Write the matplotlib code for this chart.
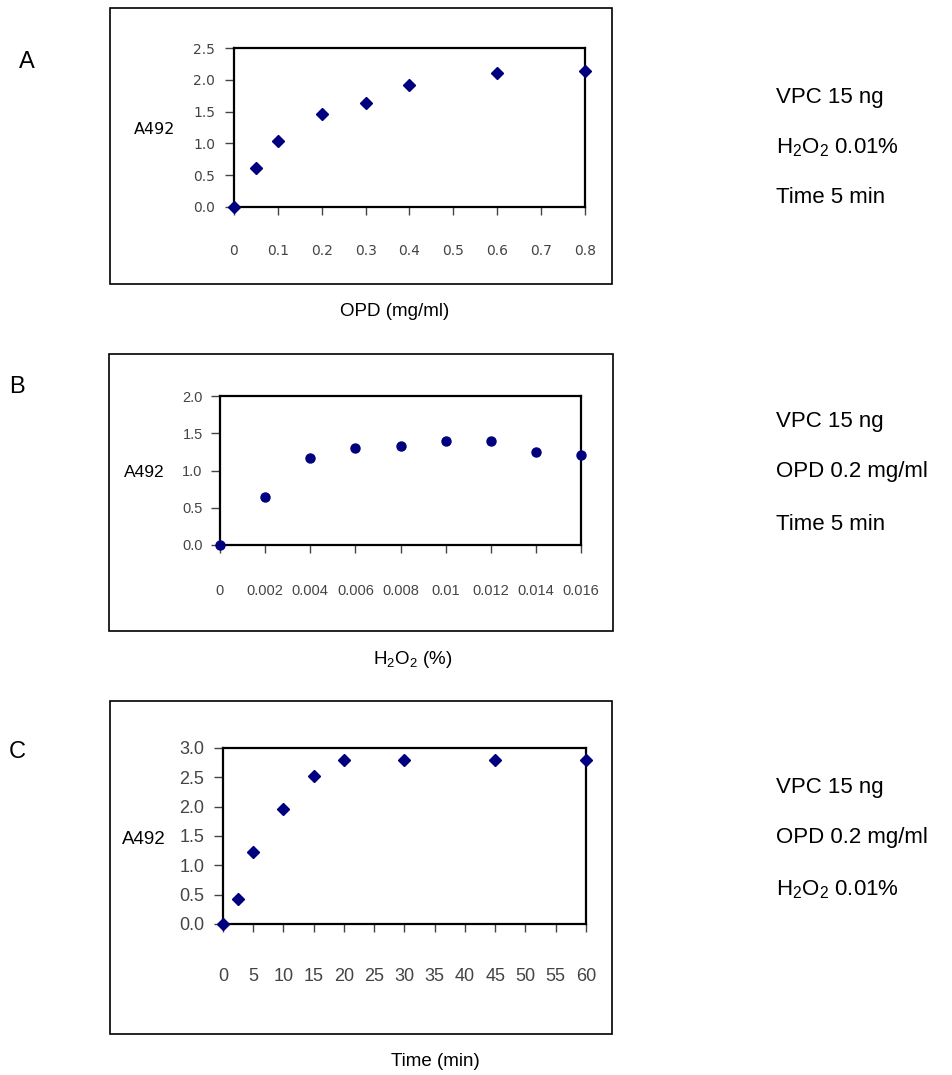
import matplotlib.pyplot as plt
from matplotlib.patches import Rectangle

plt.rcParams['font.family'] = ['Liberation Sans', 'DejaVu Sans']
plt.rcParams['mathtext.fontset'] = 'custom'
plt.rcParams['mathtext.rm'] = 'Liberation Sans'
plt.rcParams['mathtext.it'] = 'Liberation Sans'

W, H = 953, 1075

# 数据
opd_x = [0, 0.05, 0.1, 0.2, 0.3, 0.4, 0.6, 0.8]
opd_y = [0.0, 0.61, 1.04, 1.47, 1.64, 1.92, 2.11, 2.14]
opd_ticks = [0, 0.1, 0.2, 0.3, 0.4, 0.5, 0.6, 0.7, 0.8]
opd_labels = ['0', '0.1', '0.2', '0.3', '0.4', '0.5', '0.6', '0.7', '0.8']

h2o2_x = [0, 0.002, 0.004, 0.006, 0.008, 0.01, 0.012, 0.014, 0.016]
h2o2_y = [0.0, 0.65, 1.17, 1.30, 1.33, 1.40, 1.40, 1.25, 1.21]
h2o2_ticks = h2o2_x
h2o2_labels = ['0', '0.002', '0.004', '0.006', '0.008', '0.01', '0.012', '0.014', '0.016']

time_x = [0, 2.5, 5, 10, 15, 20, 30, 45, 60]
time_y = [0.0, 0.42, 1.23, 1.96, 2.53, 2.80, 2.80, 2.80, 2.80]
time_ticks = list(range(0, 61, 5))
time_labels = [str(t) for t in time_ticks]

cond_a = ['VPC 15 ng', 'H$_2$O$_2$ 0.01%', 'Time 5 min']
cond_b = ['VPC 15 ng', 'OPD 0.2 mg/ml', 'Time 5 min']
cond_c = ['VPC 15 ng', 'OPD 0.2 mg/ml', 'H$_2$O$_2$ 0.01%']

navy = '#00007f'
gray = '#444444'

fig = plt.figure(figsize=(W / 100, H / 100), dpi=100)


def fx(px):
    return px / W


def fy(py):
    return 1 - py / H


def box(x0, y0, x1, y1):
    fig.patches.append(Rectangle((fx(x0), fy(y1)), fx(x1) - fx(x0), fy(y0) - fy(y1),
                                 transform=fig.transFigure, fill=False,
                                 edgecolor='black', linewidth=1.2))


def panel(rect, xs, ys, xlim, ylim, yticks, ylabels, xticks, xlabels,
          marker, ms, fs, xpad, ypad, ylab_pos, ylab_fs, family=None):
    x0, y0, x1, y1 = rect
    ax = fig.add_axes([fx(x0), fy(y1), fx(x1) - fx(x0), fy(y0) - fy(y1)])
    ax.plot(xs, ys, linestyle='none', marker=marker, ms=ms, color=navy,
            markeredgecolor=navy, clip_on=False, zorder=5)
    ax.set_xlim(*xlim)
    ax.set_ylim(*ylim)
    ax.set_xticks(xticks)
    ax.set_xticklabels(xlabels)
    ax.set_yticks(yticks)
    ax.set_yticklabels(ylabels)
    for s in ax.spines.values():
        s.set_linewidth(1.6)
        s.set_color('black')
    ax.tick_params(axis='x', direction='out', length=6, width=1, color=gray,
                   labelcolor=gray, labelsize=fs, pad=xpad)
    ax.tick_params(axis='y', direction='out', length=6.5, width=1, color=gray,
                   labelcolor=gray, labelsize=fs, pad=ypad)
    if family:
        for lab in ax.get_xticklabels() + ax.get_yticklabels():
            lab.set_family(family)
    fig.text(fx(ylab_pos[0]), fy(ylab_pos[1]), 'A492', fontsize=ylab_fs,
             ha='left', va='center', color='black', family=family)
    return ax


# A
box(110, 8, 612, 284)
panel((234, 48, 585, 207), opd_x, opd_y, (0, 0.8), (0, 2.5),
      [0, 0.5, 1.0, 1.5, 2.0, 2.5], ['0.0', '0.5', '1.0', '1.5', '2.0', '2.5'],
      opd_ticks, opd_labels, 'D', 6.5, 10, 21, 7, (134, 129), 11.5,
      family=['DejaVu Sans'])
fig.text(fx(395), fy(311), 'OPD (mg/ml)', fontsize=13.5, ha='center', va='center')
fig.text(fx(27), fy(62), 'A', fontsize=17, ha='center', va='center')

# B
box(109, 354, 613, 631)
panel((220, 396, 581, 545), h2o2_x, h2o2_y, (0, 0.016), (0, 2.0),
      [0, 0.5, 1.0, 1.5, 2.0], ['0.0', '0.5', '1.0', '1.5', '2.0'],
      h2o2_ticks, h2o2_labels, 'o', 6.5, 10.5, 22, 6, (124, 473), 12.5)
fig.text(fx(413), fy(660), 'H$_2$O$_2$ (%)', fontsize=13.5, ha='center', va='center')
fig.text(fx(17), fy(387), 'B', fontsize=17, ha='center', va='center')

# C
box(110, 701, 612, 1034)
panel((223, 748, 586, 924), time_x, time_y, (0, 60), (0, 3.0),
      [0, 0.5, 1.0, 1.5, 2.0, 2.5, 3.0], ['0.0', '0.5', '1.0', '1.5', '2.0', '2.5', '3.0'],
      time_ticks, time_labels, 'D', 6.5, 13, 26, 7, (122, 840), 13.5)
fig.text(fx(435), fy(1061), 'Time (min)', fontsize=13.5, ha='center', va='center')
fig.text(fx(17), fy(752), 'C', fontsize=17, ha='center', va='center')

# 右侧条件说明
for lines, ys in [(cond_a, [97, 148, 198]), (cond_b, [421, 472, 524]), (cond_c, [787, 838, 890])]:
    for t, yy in zip(lines, ys):
        fig.text(fx(776), fy(yy), t, fontsize=16, ha='left', va='center')

fig.savefig('out.png', dpi=100)
